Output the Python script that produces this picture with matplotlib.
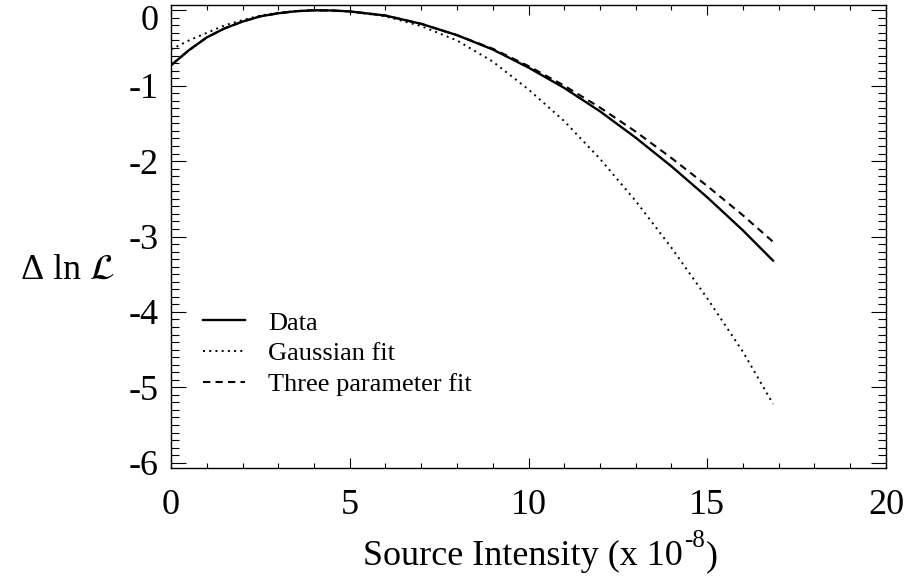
import matplotlib
matplotlib.use('Agg')
import matplotlib.pyplot as plt
from matplotlib.ticker import MultipleLocator
from matplotlib.transforms import ScaledTranslation

plt.rcParams['font.family'] = ['Liberation Serif', 'DejaVu Serif']
plt.rcParams['mathtext.fontset'] = 'stix'
plt.rcParams['axes.unicode_minus'] = False

# values
x_data = [0, 0.5, 1, 1.5, 2, 2.5, 3, 3.5, 4, 4.5, 5, 6, 7, 8, 9, 10, 11, 12, 13, 14, 15, 16, 16.84]
y_data = [-0.73, -0.53, -0.36, -0.24, -0.15, -0.08, -0.04, -0.012, 0.0, -0.003, -0.015, -0.07,
          -0.18, -0.33, -0.52, -0.76, -1.03, -1.34, -1.69, -2.07, -2.48, -2.92, -3.32]

x_gauss = [0, 0.5, 1, 1.5, 2, 2.5, 3, 3.5, 4, 4.5, 5, 6, 7, 8, 9, 10, 11, 12, 13, 14, 15, 16, 16.84]
y_gauss = [-0.52, -0.40, -0.30, -0.20, -0.13, -0.07, -0.032, -0.01, -0.002, -0.002, -0.015, -0.08,
           -0.21, -0.40, -0.68, -1.05, -1.47, -1.97, -2.53, -3.15, -3.82, -4.53, -5.22]

x_three = [0, 0.5, 1, 1.5, 2, 2.5, 3, 3.5, 4, 4.5, 5, 6, 7, 8, 9, 10, 11, 12, 13, 14, 15, 16, 16.84]
y_three = [-0.73, -0.53, -0.36, -0.24, -0.15, -0.08, -0.04, -0.012, 0.0, -0.003, -0.015, -0.07,
           -0.18, -0.33, -0.51, -0.74, -1.0, -1.29, -1.61, -1.96, -2.33, -2.72, -3.07]

labels = ['Data', 'Gaussian fit', 'Three parameter fit']

fig = plt.figure(figsize=(9.08, 5.78), dpi=100)
ax = fig.add_axes([171 / 908, 110 / 578, 715 / 908, 463 / 578])

ax.plot(x_data, y_data, color='black', lw=1.7, label=labels[0])
ax.plot(x_gauss, y_gauss, color='black', lw=1.4, linestyle=(0, (1, 2.2)), label=labels[1])
ax.plot(x_three, y_three, color='black', lw=1.5, linestyle=(0, (3.5, 2.5)), label=labels[2])

ax.set_xlim(0, 20)
ax.set_ylim(-6.07, 0.07)
ax.xaxis.set_major_locator(MultipleLocator(5))
ax.xaxis.set_minor_locator(MultipleLocator(1))
ax.yaxis.set_major_locator(MultipleLocator(1))
ax.yaxis.set_minor_locator(MultipleLocator(0.1))

ax.tick_params(axis='both', which='both', direction='in', top=True, right=True,
               labelsize=26, width=0.8, color='black')
ax.tick_params(axis='x', which='major', length=7, pad=15)
ax.tick_params(axis='x', which='minor', length=3.5)
ax.tick_params(axis='y', which='major', length=11, pad=9)
ax.tick_params(axis='y', which='minor', length=6)
for s in ax.spines.values():
    s.set_linewidth(1.0)

# x title, superscript done by hand so the minus stays a hyphen
t1 = fig.text(363 / 908, 1 - 565 / 578, 'Source Intensity (x 10', fontsize=26,
              ha='left', va='baseline')
fig.canvas.draw()
bb = t1.get_window_extent()
t2 = fig.text(bb.x1 / 908 + 1 / 908, 1 - 547 / 578, '-8', fontsize=18, ha='left', va='baseline')
fig.canvas.draw()
bb2 = t2.get_window_extent()
fig.text(bb2.x1 / 908 + 1 / 908, 1 - 565 / 578, ')', fontsize=26, ha='left', va='baseline')

fig.text(67 / 908, 1 - 270 / 578, 'Δ ln $\\mathcal{L}$', fontsize=26, ha='center', va='center')

ax.legend(loc='center left', bbox_to_anchor=(0.045, 0.247), frameon=False, fontsize=19,
          handlelength=1.6, handletextpad=0.85, labelspacing=0.28, borderpad=0, borderaxespad=0)

# top "0" label sits a little below its tick, as in the original
for tick in ax.yaxis.get_major_ticks():
    if abs(tick.get_loc()) < 1e-9:
        lab = tick.label1
        lab.set_transform(lab.get_transform() + ScaledTranslation(0, -7 / 100, fig.dpi_scale_trans))

fig.savefig('out.png', dpi=100)
